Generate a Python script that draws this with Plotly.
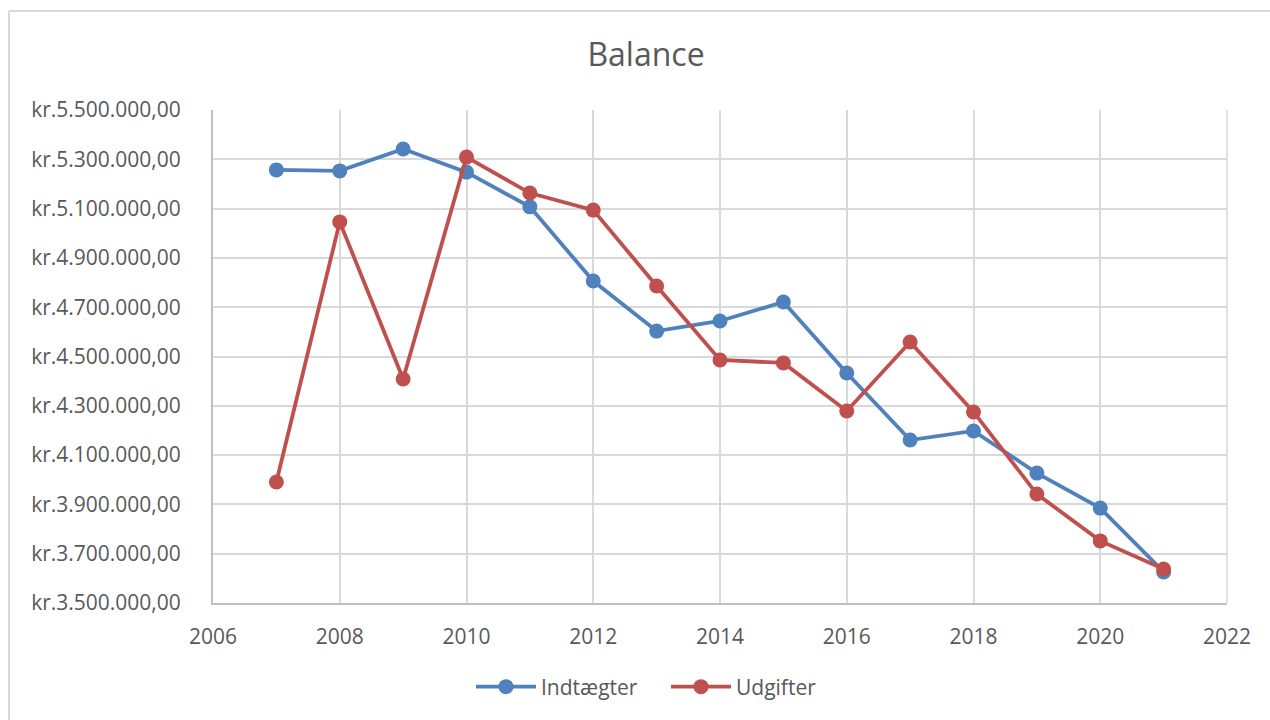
import plotly.graph_objects as go

years = [2007, 2008, 2009, 2010, 2011, 2012, 2013, 2014, 2015, 2016, 2017, 2018, 2019, 2020, 2021]
indtaegter = [5257000, 5253000, 5342000, 5248000, 5107000, 4806000, 4603000, 4644000, 4721000,
              4433000, 4161000, 4198000, 4027000, 3885000, 3626000]
udgifter = [3991000, 5046000, 4409000, 5309000, 5163000, 5094000, 4786000, 4486000, 4474000,
            4279000, 4559000, 4275000, 3942000, 3752000, 3638000]

y_ticks = [3500000, 3700000, 3900000, 4100000, 4300000, 4500000, 4700000, 4900000, 5100000, 5300000, 5500000]
y_labels = ["kr.3.500.000,00", "kr.3.700.000,00", "kr.3.900.000,00", "kr.4.100.000,00",
            "kr.4.300.000,00", "kr.4.500.000,00", "kr.4.700.000,00", "kr.4.900.000,00",
            "kr.5.100.000,00", "kr.5.300.000,00", "kr.5.500.000,00"]
x_ticks = [2006, 2008, 2010, 2012, 2014, 2016, 2018, 2020, 2022]

BLUE = "#4F81BD"
RED = "#C0504D"
FONT = "Open Sans"
TXT = "#595959"

fig = go.Figure()
fig.add_trace(go.Scatter(x=years, y=indtaegter, name="Indtægter", mode="lines+markers",
                         line=dict(color=BLUE, width=3.8), marker=dict(size=15, color=BLUE)))
fig.add_trace(go.Scatter(x=years, y=udgifter, name="Udgifter", mode="lines+markers",
                         line=dict(color=RED, width=3.8), marker=dict(size=15, color=RED)))

W, H = 1270, 720
L, R, T, B = 213, 1227, 110, 603

def px_to_paper_x(px):
    return (px - L) / (R - L)

def px_to_paper_y(py):
    return (B - py) / (B - T)

fig.update_layout(
    width=W, height=H,
    margin=dict(l=L, r=W - R, t=T, b=H - B),
    paper_bgcolor="white", plot_bgcolor="white",
    font=dict(family=FONT, color=TXT, size=20),
    title=dict(text="Balance", x=646 / W, xref="container", xanchor="center",
               y=1 - 55 / H, yref="container", yanchor="middle",
               font=dict(size=32, color=TXT, family=FONT)),
    xaxis=dict(range=[2006, 2022], tickvals=x_ticks, ticktext=[str(v) for v in x_ticks],
               showgrid=True, gridcolor="#D9D9D9", gridwidth=1.5,
               showline=True, linecolor="#BFBFBF", linewidth=2, zeroline=False,
               ticks="", tickfont=dict(size=21, color=TXT), ticklabelstandoff=14),
    yaxis=dict(range=[3500000, 5500000], tickvals=y_ticks, ticktext=y_labels,
               showgrid=True, gridcolor="#D9D9D9", gridwidth=1.5,
               showline=True, linecolor="#BFBFBF", linewidth=2, zeroline=False,
               ticks="", tickfont=dict(size=21, color=TXT), ticklabelstandoff=26),
    legend=dict(orientation="h", x=471 / W, xref="container", xanchor="left",
                y=1 - 687 / H, yref="container", yanchor="middle",
                font=dict(size=21, color=TXT), itemwidth=60, traceorder="normal",
                entrywidth=120, entrywidthmode="pixels"),
    showlegend=True,
    shapes=[
        dict(type="line", xref="paper", yref="paper",
             x0=px_to_paper_x(9), x1=px_to_paper_x(1275), y0=px_to_paper_y(11), y1=px_to_paper_y(11),
             line=dict(color="#D9D9D9", width=2)),
        dict(type="line", xref="paper", yref="paper",
             x0=px_to_paper_x(9), x1=px_to_paper_x(9), y0=px_to_paper_y(11), y1=px_to_paper_y(725),
             line=dict(color="#D9D9D9", width=2)),
        dict(type="line", xref="paper", yref="paper",
             x0=1, x1=1, y0=0, y1=1, line=dict(color="#D9D9D9", width=1.5)),
    ],
)

fig.write_html("out.html", config={"displayModeBar": False},
               post_script="document.body.style.margin='0';document.body.style.overflow='hidden';")
